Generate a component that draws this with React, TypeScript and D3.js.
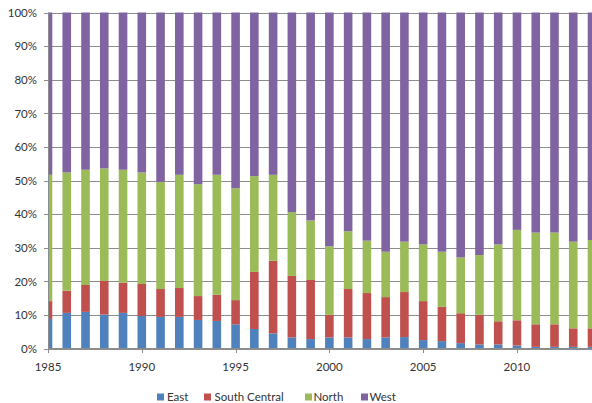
import React from "react";
import * as d3 from "d3";

const years = [1985, 1986, 1987, 1988, 1989, 1990, 1991, 1992, 1993, 1994, 1995, 1996, 1997, 1998, 1999, 2000, 2001, 2002, 2003, 2004, 2005, 2006, 2007, 2008, 2009, 2010, 2011, 2012, 2013, 2014];
const east = [8.8, 10.6, 10.9, 10.1, 10.6, 9.7, 9.4, 9.4, 8.5, 8.2, 7.2, 5.8, 4.5, 3.3, 2.8, 3.3, 3.3, 2.8, 3.3, 3.4, 2.5, 2.2, 1.6, 1.2, 1.2, 0.9, 0.5, 0.5, 0.5, 0.5];
const southCentral = [5.3, 6.6, 8.0, 10.0, 9.0, 9.5, 8.3, 8.6, 7.1, 7.8, 7.2, 17.0, 21.6, 18.3, 17.6, 6.7, 14.4, 13.7, 12.0, 13.4, 11.6, 10.2, 8.9, 8.8, 6.9, 7.5, 6.7, 6.7, 5.5, 5.5];
const north = [37.6, 35.2, 34.3, 33.5, 33.6, 33.2, 31.9, 33.7, 33.3, 35.7, 33.3, 28.5, 25.6, 19.0, 17.7, 20.4, 17.2, 15.6, 13.5, 15.0, 16.9, 16.4, 16.6, 17.8, 22.9, 26.9, 27.3, 27.3, 25.8, 26.3];
const west = [48.3, 47.6, 46.8, 46.4, 46.8, 47.6, 50.4, 48.3, 51.1, 48.3, 52.3, 48.7, 48.3, 59.4, 61.9, 69.6, 65.1, 67.9, 71.2, 68.2, 69.0, 71.2, 72.9, 72.2, 69.0, 64.7, 65.5, 65.5, 68.2, 67.7];

const seriesNames = ["East", "South Central", "North", "West"];
const seriesColors = ["#4F81BD", "#C0504D", "#9BBB59", "#8064A2"];
const yTicks = [0, 0.1, 0.2, 0.3, 0.4, 0.5, 0.6, 0.7, 0.8, 0.9, 1.0];
const xTicks = [1985, 1990, 1995, 2000, 2005, 2010];

const W = 592;
const H = 403;
const FONT = "Lato, 'Liberation Sans', sans-serif";

export default function App() {
  const table = years.map((y, i) => ({
    year: y,
    East: east[i],
    "South Central": southCentral[i],
    North: north[i],
    West: west[i],
  }));
  const stacked = d3
    .stack<any>()
    .keys(seriesNames)
    .offset(d3.stackOffsetExpand)(table);

  const left = 48;
  const right = 592;
  const x = d3.scaleLinear().domain([1985, 2014]).range([left, right]);
  const y = d3.scaleLinear().domain([0, 1]).range([348.5, 12.5]);
  const barW = 8.6;

  const legendItems = [
    { name: "East", sx: 157, tx: 167 },
    { name: "South Central", sx: 204, tx: 214.5 },
    { name: "North", sx: 305, tx: 313.5 },
    { name: "West", sx: 361, tx: 369.5 },
  ];

  return (
    <svg
      width={W}
      height={H}
      style={{ position: "absolute", left: 0, top: 0, background: "#fff" }}
      fontFamily={FONT}
    >
      <defs>
        <clipPath id="plotClip">
          <rect x={left} y={0} width={right - left + 2} height={H} />
        </clipPath>
      </defs>
      <rect x={0} y={0} width={W} height={H} fill="#fff" />
      {yTicks.map((t) => (
        <line
          key={"g" + t}
          x1={44}
          x2={right}
          y1={Math.round(y(t)) + 0.5}
          y2={Math.round(y(t)) + 0.5}
          stroke="#8c8c8c"
          strokeWidth={1}
        />
      ))}
      <g clipPath="url(#plotClip)">
        {stacked.map((s, si) => (
          <g key={s.key} fill={seriesColors[si]}>
            {s.map((d, i) => (
              <rect
                key={i}
                x={x(years[i]) - barW / 2}
                width={barW}
                y={y(d[1])}
                height={Math.max(0, y(d[0]) - y(d[1]))}
              />
            ))}
          </g>
        ))}
      </g>
      <line x1={left + 0.5} x2={left + 0.5} y1={12.5} y2={349} stroke="#8c8c8c" strokeWidth={1} />
      <line x1={left} x2={right} y1={348.5} y2={348.5} stroke="#8c8c8c" strokeWidth={1} />
      {xTicks.map((t) => (
        <line
          key={"xt" + t}
          x1={Math.round(x(t)) + 0.5}
          x2={Math.round(x(t)) + 0.5}
          y1={348.5}
          y2={353}
          stroke="#8c8c8c"
          strokeWidth={1}
        />
      ))}
      {yTicks.map((t) => (
        <text
          key={"yl" + t}
          x={37}
          y={y(t) + 4.2}
          textAnchor="end"
          fontSize={11.5}
          fill="#333"
        >
          {Math.round(t * 100) + "%"}
        </text>
      ))}
      {xTicks.map((t) => (
        <text
          key={"xl" + t}
          x={x(t)}
          y={370.8}
          textAnchor="middle"
          fontSize={11.5}
          fill="#333"
        >
          {t}
        </text>
      ))}
      {legendItems.map((l, i) => (
        <g key={l.name}>
          <rect x={l.sx} y={393.5} width={7} height={7} fill={seriesColors[i]} />
          <text x={l.tx} y={401.3} fontSize={11.5} fill="#333">
            {l.name}
          </text>
        </g>
      ))}
    </svg>
  );
}
